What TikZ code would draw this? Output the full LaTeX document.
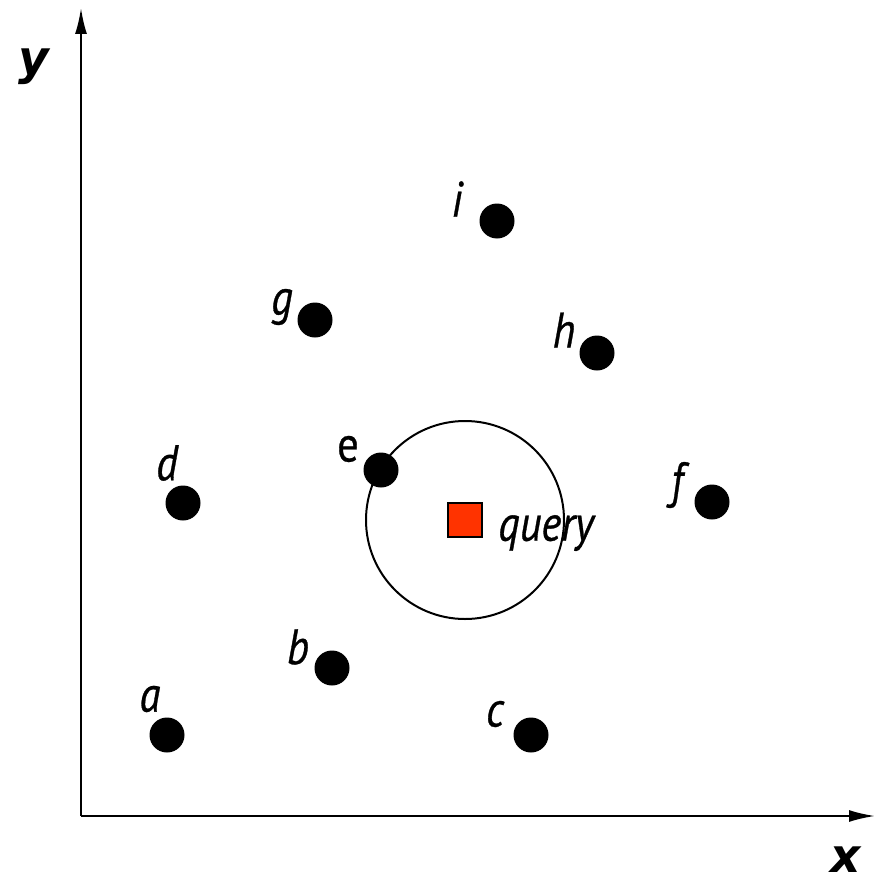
\documentclass[tikz,border=0pt]{standalone}
\usepackage{fontspec}
\setmainfont{PT Sans}
\newfontfamily\lblfont{PT Sans}[FakeStretch=0.85, FakeBold=0.6]
\newfontfamily\axisfont{DejaVu Sans}
\usetikzlibrary{arrows.meta}
\definecolor{queryred}{HTML}{FF3300}
\tikzset{
  pt/.style={circle, fill=black, inner sep=0pt, minimum size=35pt},
  lbl/.style={inner sep=0pt, font=\lblfont\fontsize{50}{54}\selectfont\itshape},
  axlbl/.style={inner sep=0pt, font=\axisfont\fontsize{47}{50}\selectfont\bfseries\itshape},
}
\begin{document}
\begin{tikzpicture}[x=1pt, y=-1pt]
\useasboundingbox (0,0) rectangle (876,883);
% Axes
\coordinate (O) at (81,816);
\coordinate (ytop) at (81,8);
\coordinate (xend) at (875,816);
\draw[line width=2pt, -{Latex[length=26pt, width=12pt]}] (O) -- (ytop);
\draw[line width=2pt, -{Latex[length=26pt, width=12pt]}] (O) -- (xend);
\node[axlbl] (ylbl) at (34,67) {y};
\node[axlbl] (xlbl) at (846,860) {x};

% Query and its range
\node[draw, circle, line width=2pt, minimum size=198pt, inner sep=0pt] (range) at (465,520) {};
\node[draw, line width=1.5pt, fill=queryred, minimum size=34pt, inner sep=0pt] (query) at (465,520) {};
\node[lbl] (qlbl) at (546,533) {query};

% Data points
\node[pt] (a) at (167,735) {};
\node[pt] (b) at (332,668) {};
\node[pt] (c) at (531,735) {};
\node[pt] (d) at (183,503) {};
\node[pt] (e) at (381,470) {};
\node[pt] (f) at (712,502) {};
\node[pt] (g) at (315,320) {};
\node[pt] (h) at (597,353) {};
\node[pt] (i) at (497,221) {};

% Labels
\node[lbl] (alb) at (150,699) {a};
\node[lbl] (blb) at (298,647) {b};
\node[lbl] (clb) at (495,714) {c};
\node[lbl] (dlb) at (167,463) {d};
\node[lbl, font=\lblfont\fontsize{50}{54}\selectfont\upshape] (elb) at (348,449) {e};
\node[lbl] (flb) at (677,485) {f};
\node[lbl] (glb) at (282,307) {g};
\node[lbl] (hlb) at (564,330) {h};
\node[lbl] (ilb) at (457,199) {i};
\end{tikzpicture}
\end{document}
